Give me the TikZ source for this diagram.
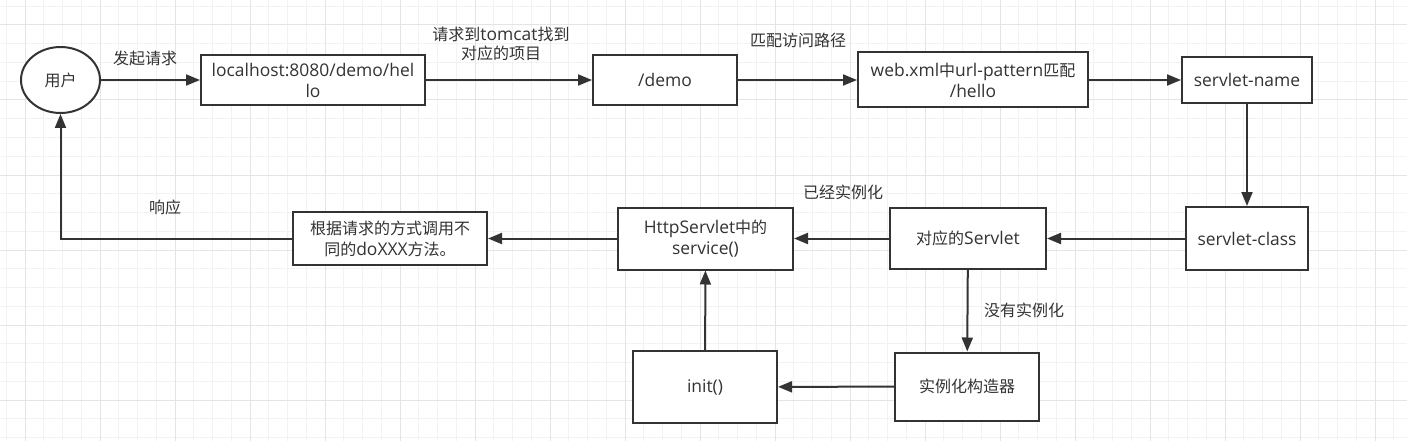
\documentclass[tikz,border=0pt]{standalone}
\usepackage{fontspec}
\setmainfont{Open Sans}[Scale=1.09]
\newfontfamily\cjk{Noto Sans CJK SC}
\usetikzlibrary{arrows.meta,shapes.geometric}
\definecolor{ink}{HTML}{333333}
\definecolor{gridminor}{HTML}{F2F2F2}
\definecolor{gridmajor}{HTML}{E4E4E4}
\tikzset{
  box/.style={draw=ink, line width=2pt, fill=white, rectangle, inner sep=0pt, align=center, text=ink,
    font=\fontsize{16}{21}\selectfont},
  lbl/.style={text=ink, align=center, inner sep=0pt, font=\fontsize{16}{19}\selectfont},
  conn/.style={draw=ink, line width=2pt, -{Triangle[length=14pt,width=11pt]}},
  gmin/.style={gridminor, line width=1pt},
  gmaj/.style={gridmajor, line width=1pt}
}
\begin{document}
\begin{tikzpicture}[x=1pt,y=-1pt]
\useasboundingbox (0,0) rectangle (1407,441);
\fill[white] (0,0) rectangle (1407,441);
\foreach \k in {0,...,74} \draw[gmin] (6.25+18.75*\k,0) -- (6.25+18.75*\k,441);
\foreach \k in {0,...,23} \draw[gmin] (0,6.25+18.75*\k) -- (1407,6.25+18.75*\k);
\foreach \k in {0,...,18} \draw[gmaj] (25+75*\k,0) -- (25+75*\k,441);
\foreach \k in {0,...,5} \draw[gmaj] (0,25+75*\k) -- (1407,25+75*\k);

% nodes
\node[box, shape=ellipse, minimum width=79pt, minimum height=66pt] (user) at (60.5,80) {{\cjk 用户}};
\node[box, minimum width=224pt, minimum height=50pt] (b1) at (313,80) {localhost:8080/demo/hel\\lo};
\node[box, minimum width=144pt, minimum height=50pt] (b2) at (665,80) {/demo};
\node[box, minimum width=230pt, minimum height=55pt] (b3) at (973,80) {web.xml{\cjk 中}url-pattern{\cjk 匹配}\\/hello};
\node[box, minimum width=130pt, minimum height=46pt] (b4) at (1247,80) {servlet-name};
\node[box, minimum width=122pt, minimum height=63pt] (b5) at (1247,238.5) {servlet-class};
\node[box, minimum width=156pt, minimum height=61pt] (sv) at (968,238.5) {{\cjk 对应的}Servlet};
\node[box, minimum width=175pt, minimum height=62pt] (http) at (705.5,238.5) {HttpServlet{\cjk 中的}\\service()};
\node[box, minimum width=194pt, minimum height=53pt] (gj) at (390,238.5) {{\cjk 根据请求的方式调用不}\\{\cjk 同的}doXXX{\cjk 方法。}};
\node[box, minimum width=144pt, minimum height=72pt] (init) at (705,387) {init()};
\node[box, minimum width=144pt, minimum height=68pt] (gz) at (967,386.5) {{\cjk 实例化构造器}};

% labels
\node[lbl] (l1) at (145,58) {{\cjk 发起请求}};
\node[lbl] (l2) at (501,44) {{\cjk 请求到}tomcat{\cjk 找到}\\{\cjk 对应的项目}};
\node[lbl] (l3) at (798,40) {{\cjk 匹配访问路径}};
\node[lbl] (l4) at (843,192) {{\cjk 已经实例化}};
\node[lbl] (l5) at (165,207) {{\cjk 响应}};
\node[lbl] (l6) at (1024,310) {{\cjk 没有实例化}};

% connectors
\draw[conn] (user) -- (b1);
\draw[conn] (b1) -- (b2);
\draw[conn] (b2) -- (b3);
\draw[conn] (b3) -- (b4);
\draw[conn] (b4) -- (b5);
\draw[conn] (b5) -- (sv);
\draw[conn] (sv) -- (http);
\draw[conn] (http) -- (gj);
\draw[conn] (gj.west) -| (user.south);
\draw[conn] (sv) -- (gz);
\draw[conn] (gz) -- (init);
\draw[conn] (init) -- (http);
\end{tikzpicture}
\end{document}
